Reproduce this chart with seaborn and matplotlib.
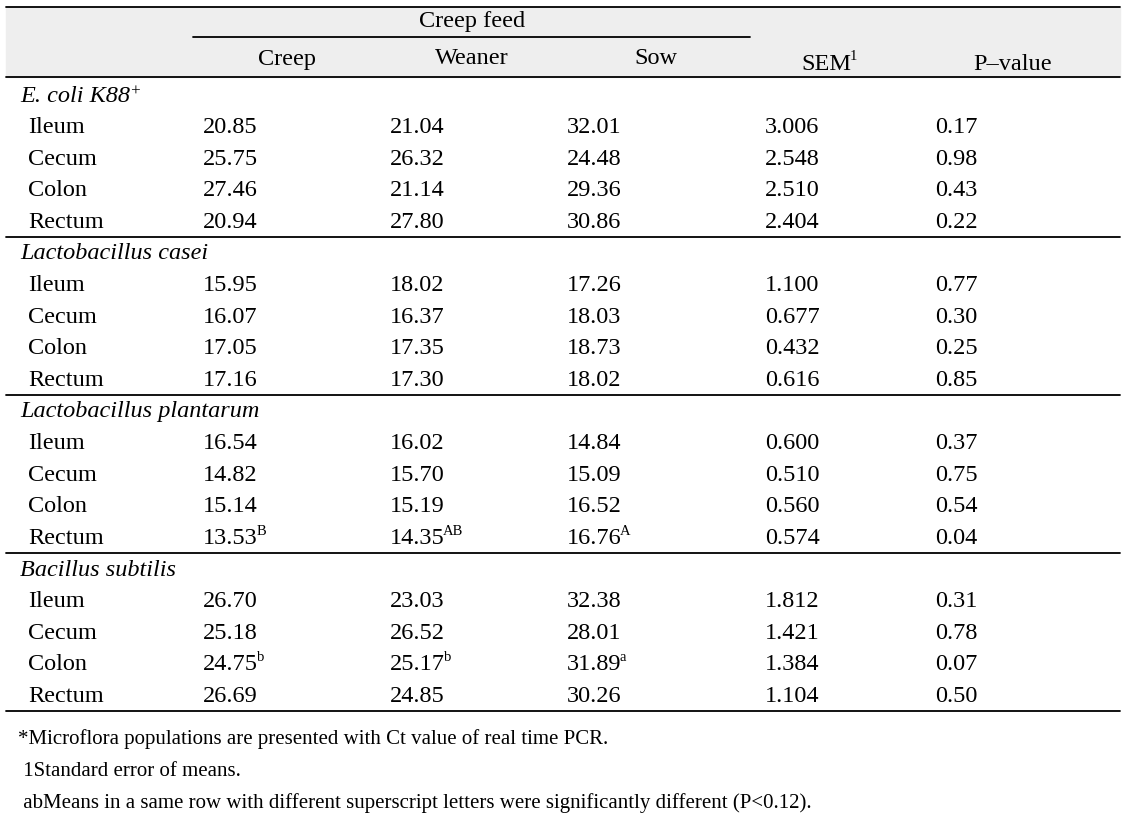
import matplotlib
matplotlib.use("Agg")
import matplotlib.pyplot as plt
import seaborn as sns

sns.set_theme(style="white")
plt.rcParams['font.family'] = ['Liberation Serif', 'DejaVu Serif']
plt.rcParams['text.color'] = 'black'

# ===== Table data =====
groups = ["E. coli K88", "Lactobacillus casei", "Lactobacillus plantarum", "Bacillus subtilis"]
sites = ["Ileum", "Cecum", "Colon", "Rectum"]
treatments = ["Creep", "Weaner", "Sow"]

creep = [20.85, 25.75, 27.46, 20.94,
         15.95, 16.07, 17.05, 17.16,
         16.54, 14.82, 15.14, 13.53,
         26.70, 25.18, 24.75, 26.69]
weaner = [21.04, 26.32, 21.14, 27.80,
          18.02, 16.37, 17.35, 17.30,
          16.02, 15.70, 15.19, 14.35,
          23.03, 26.52, 25.17, 24.85]
sow = [32.01, 24.48, 29.36, 30.86,
       17.26, 18.03, 18.73, 18.02,
       14.84, 15.09, 16.52, 16.76,
       32.38, 28.01, 31.89, 30.26]
sem = [3.006, 2.548, 2.510, 2.404,
       1.100, 0.677, 0.432, 0.616,
       0.600, 0.510, 0.560, 0.574,
       1.812, 1.421, 1.384, 1.104]
pvalue = [0.17, 0.98, 0.43, 0.22,
          0.77, 0.30, 0.25, 0.85,
          0.37, 0.75, 0.54, 0.04,
          0.31, 0.78, 0.07, 0.50]
# superscripts keyed by (row index, column)
superscripts = {(11, 0): "B", (11, 1): "AB", (11, 2): "A",
                (14, 0): "b", (14, 1): "b", (14, 2): "a"}

footnotes = ["*Microflora populations are presented with Ct value of real time PCR.",
             " 1Standard error of means.",
             " abMeans in a same row with different superscript letters were significantly different (P<0.12)."]

# ===== Layout (pixel units) =====
fig = plt.figure(figsize=(11.25, 8.2), dpi=100)
ax = fig.add_axes([0, 0, 1, 1])
ax.set_xlim(0, 1125)
ax.set_ylim(820, 0)
ax.axis("off")

fs = 17.5
col_x = [203, 390, 567, 765, 935]
head_x = [287, 472, 656, 826, 1013]
lw = 1.3

ax.axhspan(8, 78, xmin=6 / 1125, xmax=1120 / 1125, color="#eeeeee", zorder=0)
ax.plot([6, 1120], [8, 8], color="black", lw=lw)
ax.plot([6, 1120], [78, 78], color="black", lw=lw)
ax.plot([193, 750], [38, 38], color="black", lw=lw)

ax.text(472, 22, "Creep feed", ha="center", va="center", fontsize=fs)
for x, t in zip(head_x[:3], treatments):
    ax.text(x, 59, t, ha="center", va="center", fontsize=fs)
sem_txt = ax.text(head_x[3], 64, "SEM", ha="center", va="center", fontsize=fs)
ax.text(head_x[4], 64, "P\u2013value", ha="center", va="center", fontsize=fs)

fig.canvas.draw()
renderer = fig.canvas.get_renderer()
inv = ax.transData.inverted()


def right_edge(t):
    bb = t.get_window_extent(renderer)
    return inv.transform((bb.x1, bb.y1))[0]


ax.text(right_edge(sem_txt) - 1, 57, "1", ha="left", va="center", fontsize=fs * 0.6)

row_h = 31.6
y = 96
for g, name in enumerate(groups):
    gt = ax.text(20, y, name, ha="left", va="center", fontsize=fs, style="italic")
    if g == 0:
        ax.text(right_edge(gt) - 1, y - 4, "+", ha="left", va="center", fontsize=fs * 0.7, style="italic")
    y += row_h
    for s, site in enumerate(sites):
        i = g * 4 + s
        ax.text(28, y, site, ha="left", va="center", fontsize=fs)
        vals = [f"{creep[i]:.2f}", f"{weaner[i]:.2f}", f"{sow[i]:.2f}",
                f"{sem[i]:.3f}", f"{pvalue[i]:.2f}"]
        for c, v in enumerate(vals):
            t = ax.text(col_x[c], y, v, ha="left", va="center", fontsize=fs)
            if (i, c) in superscripts:
                fig.canvas.draw()
                ax.text(right_edge(t) - 1.5, y - 7, superscripts[(i, c)],
                        ha="left", va="center", fontsize=fs * 0.6)
        y += row_h
    ly = y - row_h / 2
    ax.plot([6, 1120], [ly, ly], color="black", lw=lw)

for fy, note in zip([739, 772, 803], footnotes):
    ax.text(18, fy, note, ha="left", va="center", fontsize=15)

fig.savefig("out.png", dpi=100)
